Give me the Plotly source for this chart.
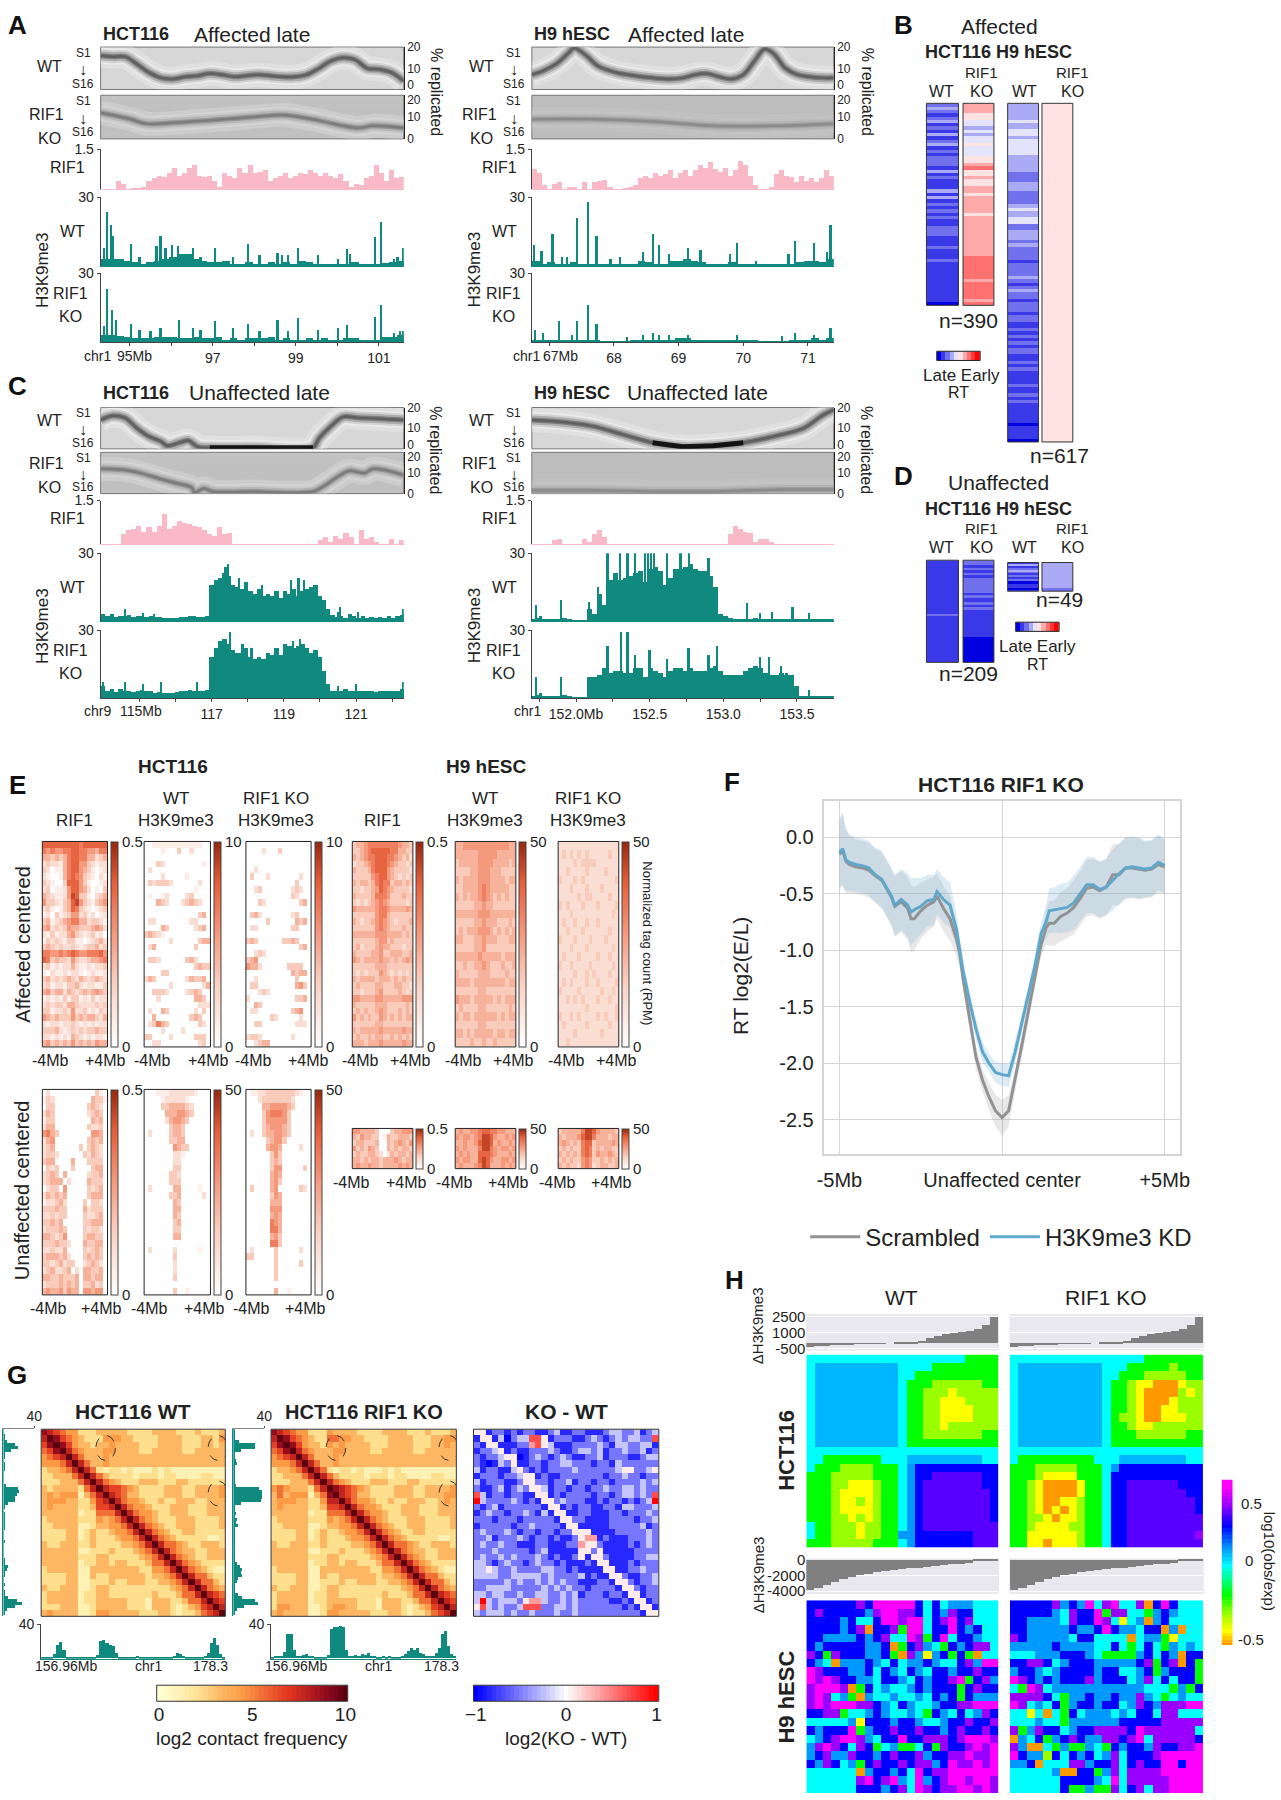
import plotly.graph_objects as go

# reference picture coordinates I read everything in (scaled down view of 1281x1800)
W, H = 1120, 1568
FONT = "Liberation Sans"
TEAL = "#10897e"
PINK = "#f9b9c6"

# ---------- panels A / C : replication ridge (x fraction, % replicated)
A1_WT_X = [0, .04, .08, .12, .16, .2, .24, .28, .32, .36, .4, .44, .48, .52, .56, .6, .64, .68, .72, .76, .8, .84, .88, .92, .96, 1]
A1_WT_Y = [16, 15.5, 15.5, 12, 8, 5.5, 5, 6, 6.5, 7.5, 7, 6, 6.5, 7, 6.5, 6, 6, 7, 10, 13.5, 15, 14, 10, 9.5, 8, 4]
A1_KO_X = [0, .1, .15, .3, .5, .6, .7, .8, .85, .9, 1]
A1_KO_Y = [12, 9, 7, 8, 10, 11, 9, 6, 5, 6, 5]
A2_WT_X = [0, .04, .08, .12, .14, .18, .22, .28, .34, .4, .46, .5, .54, .58, .62, .66, .7, .74, .77, .8, .84, .88, .92, .96, 1]
A2_WT_Y = [7, 9, 12, 17, 19.5, 16, 11, 8, 6.5, 5.5, 5, 5.5, 7, 7.5, 6, 5, 7, 14, 19, 17, 10, 7, 6, 5.5, 5.5]
A2_KO_X = [0, .2, .4, .6, .8, 1]
A2_KO_Y = [9, 9, 8, 6, 6, 7]
C1_WT_X = [0, .04, .08, .12, .16, .2, .22, .26, .29, .32, .36, .5, .7, .72, .76, .8, .85, 1]
C1_WT_Y = [14, 16, 15, 10, 6, 3.5, 1.5, 3, 4, 1, .5, .5, .5, 5, 11, 15.5, 15, 14]
C1_KO_X = [0, .1, .2, .25, .3, .31, .34, .37, .5, .7, .74, .78, .82, .87, .9, 1]
C1_KO_Y = [12, 11, 7, 5, 3, .5, 2.5, 1, 1, 1, 4, 8, 11, 10, 12, 9]
C2_WT_X = [0, .1, .2, .3, .4, .5, .6, .7, .8, .9, .96, 1]
C2_WT_Y = [14, 13, 11, 7, 3, 1, 1.5, 3, 6, 10, 16, 19]
C2_KO_X = [0, .2, .4, .5, .6, .7, .85, 1]
C2_KO_Y = [1.5, 1.5, 1, 1, 1, 1.5, 2, 2]

# ---------- RIF1 tracks
A1_RIF1 = [0, 0, 0, .3, .2, 0, .05, .05, .1, .3, .4, .5, .45, .6, .8, .5, .6, .8, .9, .5, .45, .5, .3, .1, .6, .5, .4, .8, .6, .9, .6, .65, .7, .3, .4, .5, .6, .4, .5, .6, .55, .7, .6, .5, .6, .5, .4, .55, .3, .1, .2, .15, .4, .5, .9, .6, .3, .7, .4, .45]
A2_RIF1 = [.75, .6, .15, 0, .2, .25, 0, .08, .08, 0, .25, 0, .25, .3, .35, .1, 0, 0, .05, .1, .15, .4, .5, .4, .6, .5, .55, .7, .4, .6, .7, .5, .7, .9, .8, 1.0, .75, .65, .8, .5, .7, 1.05, .9, .5, .15, 0, 0, .1, .55, .7, .5, .45, .25, .5, .3, .4, .25, .4, .7, .5]
C1_RIF1 = [0, 0, 0, 0, .35, .5, .55, .65, .45, .6, .45, .65, 1.05, .55, .65, .8, .75, .7, .65, .6, .5, .35, .3, .6, .35, .4, 0, 0, 0, 0, 0, 0, 0, 0, 0, 0, 0, 0, 0, 0, 0, 0, 0, .15, .25, .1, .3, .2, .4, .25, 0, .5, .2, .25, .1, 0, 0, .2, 0, .15]
C2_RIF1 = [0, 0, 0, 0, .15, .2, 0, 0, 0, 0, .2, .1, .35, .5, .25, 0, 0, 0, 0, 0, 0, 0, 0, 0, 0, 0, 0, 0, 0, 0, 0, 0, 0, 0, 0, 0, 0, 0, 0, .35, .65, .55, .45, .4, .1, .2, .2, .1, 0, 0, 0, 0, 0, 0, 0, 0, 0, 0, 0, 0]

# ---------- H3K9me3 tracks : coarse signal plus the narrow peaks
A1_WT_BASE = [3, 3, 3, 2, 1.5, 1, 1.5, 2, 3, 4, 5, 5, 3, 2, 1.5, 1.5, 2, 1, 1, 1.5, 1, 1, 1.5, 1, 1.5, 1, 2, 1.5, 1, 1, .8, 1, 1, 1.5, 1, 1, .8, 1.2, 1.5, 2]
A1_WT_PX = [94.37, 94.45, 94.55, 94.6, 95.02, 95.23, 95.64, 95.74, 95.86, 96.01, 96.16, 96.52, 96.7, 97.05, 97.48, 97.84, 98.12, 98.56, 98.66, 98.81, 99.05, 99.54, 100.01, 100.23, 100.31, 100.9, 101.05, 101.36, 101.45, 101.58]
A1_WT_PH = [8, 23.5, 18, 13, 9.4, 4, 8.5, 13, 8, 9.3, 8.7, 8, 4, 8, 4, 9.7, 4.6, 5.4, 4.6, 4.6, 8, 4.6, 3.2, 7.5, 5, 12.6, 19, 3.2, 4, 8]
A1_KO_BASE = [3, 3, 2.5, 2, 1.5, 1.5, 1.5, 2, 2, 2, 1.5, 1.5, 2, 1.5, 1.5, 2, 1, 1.5, 1, 1.5, 1.5, 1.5, 2, 1, 1.5, 1, 1, 1.5, 1, 1.5, 1, 1, 1.5, 1.5, 1, 1, 1, 2, 2, 3]
A1_KO_PX = [94.37, 94.45, 94.57, 94.67, 95.02, 95.23, 95.5, 95.74, 96.18, 96.52, 96.7, 97.05, 97.48, 97.84, 98.12, 98.56, 98.81, 99.05, 99.54, 100.01, 100.23, 100.9, 101.05, 101.36, 101.5, 101.58]
A1_KO_PH = [7, 23, 14, 9.7, 8, 5, 4.6, 6, 9.4, 6, 5, 9, 6, 8, 4.6, 9.7, 4.6, 10.4, 5, 6, 7.5, 11, 16, 4, 4.6, 4.6]
A2_WT_BASE = [2, 1, 1.5, 1, 1, 1.5, 1, 1, .8, .5, .5, .5, .8, 1, 2, 1.5, 1, 1, 2, 2, 3, 2, 1.5, 1, 1, 1, 1.5, 1, 1, .8, .6, .6, .5, .6, .8, 1.5, 2, 2, 1.5, 3]
A2_WT_PX = [66.77, 66.88, 67.05, 67.2, 67.28, 67.43, 67.6, 67.73, 67.95, 68.1, 68.45, 68.6, 68.7, 68.85, 69.15, 69.34, 69.8, 69.9, 70.2, 70.7, 70.8, 71.1, 71.3, 71.35]
A2_WT_PH = [9, 6.5, 14, 4, 4, 21, 28, 13, 3, 4, 6, 14, 9, 5, 8, 7, 5, 10, 2, 5, 11, 10, 6, 18]
A2_KO_BASE = [1, 1, .6, .5, .5, 1, .6, .5, .5, .3, .3, .3, .3, .4, .5, .6, 1, .7, 1, 1.5, 1.5, 1, 1, 1, .8, .6, 1, .7, .5, .5, .3, .3, .3, .3, .5, .8, 1, 1.5, 1, 1.5]
A2_KO_PX = [66.78, 66.9, 67.15, 67.35, 67.43, 67.6, 67.73, 68.2, 68.45, 68.6, 68.7, 68.85, 69.15, 69.9, 70.6, 70.8, 71.1, 71.35]
A2_KO_PH = [5, 4, 9, 3, 9, 16, 8, 2, 3, 4, 3, 3, 3, 3, 2.5, 4, 3, 6]
C1_WT_BASE = [3, 2, 3, 1.5, 2, 2, 2.5, 1.5, 2, 2, 1.5, 2, 1.5, 1.5, 1, 1, 1, 1, 1.5, 1.5, 2, 2, 1.5, 1.5, 2, 16, 18, 19, 21, 20, 16, 15, 14, 17, 13, 12, 14, 11, 12, 11, 13, 10, 13, 12, 14, 11, 13, 14, 15, 16, 11, 9, 5, 2.5, 1.5, 2, 1, 3, 2, 1, 2, 1, 1.5, 1, 1.5, 1, 2, 1, 2, 2.5]
C1_WT_PX = [114.6, 115.1, 115.4, 117.38, 117.45, 117.75, 118.4, 119.2, 119.4, 119.55, 120.5, 120.55, 121.05, 122.3]
C1_WT_PH = [5, 3.5, 3, 24, 25, 19, 16, 18, 19, 18, 4, 6, 4, 5]
C1_KO_BASE = [5, 3, 4, 2.5, 4, 3, 3, 2.5, 3, 3.5, 3, 3, 2, 2.5, 2, 2, 2, 2.5, 3, 3, 3.5, 3, 3, 3, 3.5, 18, 22, 25, 26, 24, 21, 20, 20, 22, 18, 17, 18, 17, 20, 19, 22, 19, 24, 23, 22, 23, 24, 22, 20, 21, 18, 12, 6, 3, 3, 3, 4, 3, 3, 3, 3, 3, 3, 2.5, 3, 3, 3, 3, 3, 4]
C1_KO_PX = [114.0, 114.6, 115.1, 115.6, 116.6, 117.38, 117.5, 117.85, 118.1, 118.8, 119.25, 119.45, 120.5, 121.0, 122.3]
C1_KO_PH = [7, 7, 6, 7, 7, 26, 29, 24, 22, 22, 25, 26, 5, 6, 7]
C2_WT_BASE = [.5, 1, .5, .5, .5, .5, 1, .5, .3, .3, .3, 5, 3, 12, 7, 18, 21, 18, 19, 20, 21, 22, 17, 23, 24, 22, 16, 19, 23, 23, 24, 25, 23, 22, 22, 20, 15, 3, 2, 1, .8, .5, .5, .8, 1, .8, .7, .5, .5, .5, .5, .5, .5, .5, .5, .5, .5, .5, .5, .5]
C2_WT_PX = [151.73, 151.76, 151.9, 152.09, 152.15, 152.215, 152.3, 152.35, 152.4, 152.47, 152.49, 152.51, 152.53, 152.62, 152.71, 152.77, 152.9, 153.16, 153.25, 153.33, 153.47, 153.58]
C2_WT_PH = [7, 2, 9, 8.5, 15, 30, 30, 30, 30, 30, 30, 30, 30, 30, 30, 30, 28, 8, 3.5, 4, 6, 3.5]
C2_KO_BASE = [.5, 1, .5, .5, .5, .5, 1, .5, .3, .3, .3, 9, 9, 10, 13, 11, 12, 12, 11, 11, 13, 13, 9, 13, 12, 11, 9, 12, 13, 13, 12, 13, 12, 12, 12, 13, 14, 12, 10, 10, 10, 10, 12, 13, 14, 13, 11, 10, 10, 11, 10, 10, 5, .5, .5, .5, .5, .5, .5, .5]
C2_KO_PX = [151.73, 151.76, 151.9, 152.215, 152.305, 152.35, 152.4, 152.5, 152.62, 152.765, 152.9, 152.96, 153.25, 153.31, 153.39, 153.43, 153.47, 153.58]
C2_KO_PH = [9, 2, 9, 23, 29, 29, 19, 21, 17, 22, 19, 23, 18, 18, 14, 11, 10, 3.5]

# ---------- panels B / D : RT stripes, 0 = late ... 9 = early
B_HCT_WT = "2321231213123121222131211131312121211222111211121111111111110"
B_HCT_KO = "6665544343445444556755655665666665666666666666777777767777767"
B_H9_WT = "33333433443444443333322233322223433442233323222212222321232212221221121212122112121111211212111111011110"
B_H9_KO = "5555555555555555555555555555555555555555555555555555555555555555555555555555555555555555555555555555"
D_HCT_WT = "111111111111111111111121111111111111111111"
D_HCT_KO = "22121212222221211212111111111110000000000"
D_H9_WT = "1312321212001101"
D_H9_KO = "3333333333333322"
LEGEND_STEPS = [0, 1, 2, 3, 4, 5, 6, 7, 8, 9]

# ---------- panel E : tornado plots, one string per row (0 white ... 9 dark)
E_A1 = ["7777777776777777", "6565566776655466", "4434346776644234", "2322146775532122", "3201146775431012", "2100146765321021", "3210037775310012", "2301125775420103", "4321125873310234", "5332134785321345", "2310134763210123", "1203123552312012", "3412345664423321", "4523235443334542", "2131224532123120", "1323213311012342", "3432322321233423", "6655656765566675", "7634332532234456", "2312122421121223", "1021121221012112", "3423234324323432", "2312213342122113", "4534424323434543", "1212131331213122", "2323324432222323", "3312232522312132", "5434333534344324", "2122122321212122", "3334212323233433", "2212121432121221", "4534343534343544"]
E_A2 = ["0011111111111100", "0000100030020000", "0000000000000000", "0003200000000010", "0200000000000000", "0000200000100000", "0323332000000200", "0000000000001000", "0100120000230000", "0004320002343200", "0000000000000000", "0000000000000340", "0220000000022000", "0000430000002340", "3432100000000000", "0000002000000344", "0240000000003000", "0000000000000000", "0332000000342000", "0000000000003433", "0000330000000000", "2430000000243340", "0000002000000024", "0033320000234300", "0002000000004430", "0000000000000222", "0200430000002030", "0040000000034300", "0236430000000320", "0000200002000000", "3300002000003330", "0022000000000230"]
E_A3 = ["0000000000000000", "0000200030000000", "0000000000000000", "0000000000000000", "0020000000000000", "0300020000000200", "0000000000003000", "0023000000023200", "0000000000032000", "0003200000000340", "0000000000000000", "0342000000023000", "0000030000004340", "0220000000033000", "0000000000000000", "3430000003343000", "0000000000000340", "0023200000000000", "3450000000000000", "5442000000333300", "0000000000043440", "0020000000003000", "0330000000004530", "0002320000000000", "2000000000003340", "0043000000000000", "0220000000034500", "0000003200000200", "0033000000002220", "0000000000000000", "2332000000020000", "0023440000000000"]
E_A4 = ["3445666666665443", "3345677777664433", "4345667776654342", "2334567776543323", "4333467775433332", "3333356775432323", "4344346766344343", "3323345765433332", "4333346665333433", "3232345654333323", "5444445665444454", "3333335664333333", "4323345654323334", "3333335654333433", "4444445554444343", "3333334553433333", "3423334544333233", "4333344533444334", "5434444544343454", "3333334443333333", "3232333543232323", "4344443444343433", "3433334433344332", "3323334533334323", "5544445544444555", "4333334443333343", "3434334543334343", "5343433543434344", "3333334433333333", "4344444544444544", "3433434433434343", "4443444544444544"]
E_A5 = ["4455555555555544", "4444445555544444", "3444445555444434", "3333445554443333", "4344445554444344", "3344445654444433", "4343445654343433", "3333344544333333", "4444445554444444", "3333344544433343", "3434445554343434", "4433344544433344", "3333344533333333", "4444445444443444", "3343344543334334", "4333334443333433", "4444344444444344", "3333334433333333", "5444344444343444", "3433334433333343", "4344344444434344", "3333334433333333", "4434344444344344", "3333433433433333"]
E_A6 = ["2222222222222222", "2323232322222322", "2222323333222222", "2232222322223222", "3222323222222223", "2223222322232222", "2222232332222322", "3232223222322223", "2223222222222232", "2322322322322222", "2232223222222322", "3222322232223222", "2223222322222232", "2322232222322322", "3223222232222232", "2222322323222322", "2323222322322223", "3222232222232232", "2232323222322322", "2222222322222223", "3223232222323223", "2322222322222322", "2222322222232222", "2232222222222222"]
E_B1 = ["0200000000000310", "1320000000004331", "0330000000034320", "2430000000023430", "1330000000004340", "2440000000032230", "5643000000005540", "2450000000034340", "2340000003034320", "2332000000324320", "3440000400033330", "0323000300003440", "2343040000023340", "2344402000043330", "0233050000032340", "2434340000034440", "1223420000303320", "3334330000423330", "2232330000322340", "3343400000334440", "2333430000323320", "4432350000344330", "3334332000433440", "2232240000323430", "3444342000343430", "3323423300234320", "2342234020443340", "4433433340443440", "2333434340334230", "4544535440554550"]
E_B2 = ["0001112222221000", "0000122222100000", "0000334444320000", "0000044455430000", "0000024554300000", "0000003443000000", "0200003443000000", "0000003344000000", "0000000543300000", "0000000221000000", "0000000220000000", "0000000330000000", "0000003320000000", "0000003330000000", "0200000440000100", "0000003340000020", "0000000430000000", "0000000440000000", "0000000430000000", "0000000340000000", "0000000330000000", "0000000440000000", "0000000000000000", "0200000200000100", "0000000300000000", "0000000200000000", "0000000200000000", "0000000300000000", "0000000000000000", "0000000300100000"]
E_B3 = ["0112233333332100", "0002333333320000", "0000445555430000", "0000356665300000", "0000355555300000", "0000345554300000", "0200344554300000", "0000034553000000", "0000045540000200", "0000003530000000", "0000003430000000", "0000003550000030", "0000004540000000", "0000004530000000", "0300004500000320", "0000003540000000", "0000004440000000", "0000005550000000", "0000004540000000", "0000006540000000", "0000006640000000", "0000004530000000", "0000006630000000", "0200000300000200", "3300000300000000", "0000000300000300", "0000000300000000", "0000000300000000", "0000000000000000", "0000000400100000"]
E_S1 = ["5544443000344555", "4354433014334443", "3443334004345435", "5343543004343443", "3433443202434434", "4434344344454344", "4544544344445454"]
E_S2 = ["4544556776655444", "5455456887544545", "4454457887454454", "5454446886545545", "4545447776544454", "5455447875445545", "4544456874445454"]
E_S3 = ["3444446887544443", "4344457886444344", "4543436773444454", "3434336763434433", "4343436763544543", "3434335653343434", "4343325652344334"]

# ---------- panel F
F_POS = [-5, -4.9, -4.8, -4.7, -4.5, -4.3, -4.1, -3.9, -3.7, -3.5, -3.4, -3.3, -3.1, -2.9, -2.8, -2.7, -2.5, -2.3, -2.1, -2.0, -1.8, -1.6, -1.4, -1.3, -1.2, -1.0, -.8, -.6, -.4, -.2, 0, .2, .4, .6, .8, 1.0, 1.2, 1.35, 1.45, 1.6, 1.8, 2.0, 2.2, 2.4, 2.6, 2.8, 3.0, 3.2, 3.4, 3.6, 3.8, 4.0, 4.2, 4.4, 4.6, 4.8, 5]
F_KD = [-.13, -.1, -.2, -.22, -.24, -.25, -.27, -.33, -.37, -.47, -.52, -.6, -.55, -.6, -.66, -.64, -.61, -.56, -.55, -.48, -.55, -.6, -.82, -1.0, -1.18, -1.45, -1.7, -1.9, -2.0, -2.08, -2.1, -2.11, -1.9, -1.65, -1.4, -1.15, -.85, -.75, -.65, -.64, -.63, -.62, -.58, -.5, -.42, -.42, -.46, -.44, -.38, -.32, -.27, -.26, -.27, -.28, -.27, -.22, -.25]
F_SCR = [-.15, -.12, -.21, -.24, -.26, -.27, -.29, -.34, -.38, -.48, -.53, -.61, -.57, -.63, -.72, -.72, -.65, -.6, -.57, -.52, -.63, -.72, -.9, -1.03, -1.25, -1.6, -1.95, -2.15, -2.3, -2.42, -2.48, -2.42, -2.15, -1.85, -1.55, -1.25, -.95, -.8, -.76, -.76, -.7, -.67, -.62, -.54, -.45, -.44, -.47, -.44, -.33, -.33, -.27, -.27, -.28, -.29, -.28, -.24, -.26]
F_KD_SD = [.3, .32, .28, .25, .24, .24, .24, .24, .25, .25, .25, .27, .27, .28, .3, .28, .25, .23, .22, .2, .2, .2, .15, .12, .1, .09, .09, .09, .08, .09, .1, .1, .1, .09, .09, .09, .1, .15, .2, .2, .22, .22, .24, .24, .25, .25, .25, .25, .27, .27, .27, .27, .27, .25, .25, .25, .24]
F_SCR_SD = [.3, .32, .28, .25, .24, .24, .24, .24, .25, .25, .25, .27, .27, .28, .3, .28, .25, .23, .22, .2, .2, .2, .15, .12, .1, .1, .1, .1, .12, .14, .16, .14, .1, .1, .1, .1, .1, .15, .2, .2, .22, .22, .24, .24, .25, .25, .25, .25, .27, .27, .27, .27, .27, .25, .25, .25, .24]

# ---------- panel G : upper triangle of the contact map, 0..9
HIC_WT = ["876544222333332222333322232223", "98654322244433222233332223324", "9864332334333322233332223323", "975433344333322333332233333", "97533343333333333333333333", "9753343333333333333333333", "975212212111212111111111", "97532222122212211112211", "9754322233322233222222", "976654322223332233334", "97653322223332233334", "9754432232233322333", "975443222333222333", "97544322333222333", "9754322233322223", "975432233322223", "97543223322222", "9754322222112", "975543223332", "97543322333", "9754322333", "975432222", "97543211", "9755322", "975532", "97543", "9765", "976", "97", "9"]
HIC_KO_EDITS = [(1, 9, 5), (1, 10, 5), (2, 9, 4), (1, 28, 4), (2, 28, 4), (10, 28, 4), (11, 28, 4), (9, 10, 8), (9, 11, 7), (0, 9, 4)]
HIC_DIFF = ["552332323322342233222344334234", "255241344775233322343234344337", "325522233675422233334324433442", "233452322333432234434233433423", "323345512343234322334233322344", "321243522332334433323324333333", "423322453232333343333334553345", "233323345523223333333233433233", "423332235533233423323323333434", "322342343554233233233433443433", "742332332255232333323323443437", "843333432325534333223233232348", "323423333332552323322332443334", "234332334324255223322233233343", "333233323333325533222233332334", "233333233433332552222233333423", "343334323323323355522223333343", "334233343233232235662322233343", "343343322233222336553222232343", "333433333234222225535222223333", "343343433343232235255322223344", "443234332343323222325522232333", "445433433334433232222552233433", "444433444443433334232255322334", "333334343343434332223325532334", "334444333334343433233332553233", "443443343344334342333233255233", "484344435664334343333322325523", "574343347773344343333333232552", "434443433433343343333333333255"]
G_WT_TRACK = [1, 1, 2, 2, 5, 16, 19, 10, 2, 2, 1, 1.5, 2, 2, 1, 1, 1, 1, 4, 20, 21, 18, 16, 15, 6, 1.5, 1, 1.5, 2, 1.5, 2, 3, 2, 1, 1, 1, 1.5, 1, 1, 1, 1, 1, 1.5, 3, 6, 5, 3, 2, 1, 1, 1.5, 1, 2, 3, 6, 18, 24, 16, 5, 2]
G_KO_TRACK = [2, 3, 3, 3, 8, 28, 28, 10, 3, 3, 4, 5, 3, 3, 2, 2, 2, 2, 4, 34, 37, 37, 38, 36, 10, 3, 3, 4, 3, 5, 4, 6, 3, 3, 2, 2, 3, 2, 3, 2, 2, 2, 3, 5, 9, 12, 10, 12, 6, 5, 3, 3, 3, 6, 12, 28, 32, 14, 5, 3]

# ---------- panel H : colour codes per cell (hex digit), see H_LEVELS; 9 and a are the softer block tones
H_LEVELS = [-.55, -.45, -.33, -.2, 0, .12, .28, .42, .55, .085, .36]
H_HCT_WT = ["44444444444444444443333", "49999999999444433333333", "49999999999443333333333", "49999999999433322222233", "49999999999433222122222", "49999999999433221112222", "49999999999433221111222", "49999999999433221111222", "49999999999433221222222", "49999999999433222222233", "49999999999433333333333", "44444444444444444444444", "44333333344499999999944", "43332222333456666666666", "333222223334566aaaaaa66", "33322111233456aaaaaaa66", "33321111233456aaaaaaaa6", "33321121233456aaaaaaaa6", "33321111233456aaaaaaaa6", "33322121233456aaaaaaaa6", "43322212233456aaaaaaaaa", "43322212233556666666aaa", "33322222333456666666aaa"]
H_HCT_KO = ["44444444444444443333333", "49999999999444333332333", "49999999999443332222233", "49999999999433211000122", "49999999999433210000212", "49999999999433210001222", "49999999999433210011222", "49999999999432210011122", "49999999999433211222222", "49999999999433322222233", "49999999999433333333333", "44444444444444444444444", "43333333334449999999944", "33322222333456666666666", "33321111333466666666666", "33210000133466aaaaaa666", "33210000133466aaaaaaa66", "33210011233466aaaaaaaa6", "33210101233466aaaaaaaa6", "33221011233466aaaaaaaaa", "33211112233466aaaaaaaaa", "33111111233466aaaaaaaa7", "33110111233466aaaaaaaaa"]
H_H9_WT = ["66666676888886464555444", "67666665788776465766444", "66665644688788467867444", "66665670667388466865644", "66555565674487368466544", "65666665560367543656774", "76376665563075156363044", "65405556546455654467588", "87666556465465466566766", "87876655466546566783675", "78887036454456566636766", "78745305445445465636555", "78788877654654456677888", "66773445654454365464576", "44444516665665445667667", "65666835667667665676676", "45678875466866777678887", "57876476345334637667878", "56755766567667566778778", "65764536766767756877878", "44444405665648677888888", "44444478678548567887887", "44444466656748767788787"]
H_H9_KO = ["66666756584784470686444", "66666547668377443565444", "66555547668741450564444", "66555556556865546605044", "76555554664444045531444", "55555655554464346435454", "44455566654333356465066", "66776456665555567367063", "56654566665664456356663", "87656566675666457464663", "43874555555555554443536", "77776435565565575434544", "87454635665664576577788", "44140436455545466477444", "44454435555556666677777", "73576645667777687777774", "05463567655776784777776", "75004353354365665766778", "86552646564574666788888", "55604447756674676688688", "44444500663574777788888", "44444466665484777778888", "44444463353374674778888"]
H_TOP_BARS = [-350, -300, -250, -200, -150, -100, -60, -40, -20, -10, 0, 20, 60, 130, 200, 500, 650, 800, 900, 1000, 1100, 1300, 1700, 2400]
H_MID_BARS = [-3900, -3600, -3200, -2900, -2500, -2200, -2000, -1800, -1600, -1400, -1300, -1200, -1100, -1000, -900, -800, -700, -600, -500, -400, -200, -100, -50]

fig = go.Figure()
count = [1]


def panel(x0, y0, x1, y1, xa=None, ya=None):
    count[0] += 1
    i = count[0]
    xo = dict(domain=[x0 / W, x1 / W], anchor=f"y{i}", showgrid=False, zeroline=False, showticklabels=False, ticks="")
    yo = dict(domain=[1 - y1 / H, 1 - y0 / H], anchor=f"x{i}", showgrid=False, zeroline=False, showticklabels=False, ticks="")
    xo.update(xa or {})
    yo.update(ya or {})
    fig.update_layout(**{f"xaxis{i}": xo, f"yaxis{i}": yo})
    return f"x{i}", f"y{i}"


def frame(xr, yr, fill=None, color="#555", width=1):
    fig.add_shape(type="rect", xref=xr + " domain", yref=yr + " domain", x0=0, x1=1, y0=0, y1=1,
                  line=dict(color=color, width=width), fillcolor=fill, layer="below" if fill else "above")


def label(x, y, text, size=15, bold=False, angle=0, color="#222", anchor="center"):
    fig.add_annotation(x=x / W, y=1 - y / H, xref="paper", yref="paper", text=f"<b>{text}</b>" if bold else text,
                       showarrow=False, textangle=angle, xanchor=anchor, yanchor="middle",
                       font=dict(family=FONT, size=size, color=color))


def ridge(rect, rx, ry, bg, halo, strength, rtick, dark=None):
    xr, yr = panel(*rect, xa=dict(range=[0, 1]),
                   ya=dict(range=[0, 20], side="right", showticklabels=True, tickvals=rtick, ticktext=["0", "10", "20"], ticks="",
                           showline=True, linecolor="#222", linewidth=1,
                           tickfont=dict(family=FONT, size=12, color="#222")))
    frame(xr, yr, fill=bg, color="#777")
    layers = [(24, halo, .35), (16, halo, .6), (13, "#9a9a9a", .3 * strength), (9, "#777", .4 * strength), (5, "#555", .55 * strength), (2.5, "#444", .5 * strength)]
    for w, c, o in layers:
        fig.add_trace(go.Scatter(x=rx, y=ry, mode="lines", line=dict(color=c, width=w, shape="spline"), opacity=o,
                                 hoverinfo="skip", showlegend=False, xaxis=xr, yaxis=yr))
    if dark:
        fig.add_trace(go.Scatter(x=rx[dark[0]:dark[1]], y=ry[dark[0]:dark[1]], mode="lines",
                                 line=dict(color="#0a0a0a", width=5), opacity=.9, hoverinfo="skip",
                                 showlegend=False, xaxis=xr, yaxis=yr))


def track(rect, xrange, ymax, base, px=None, ph=None, color=TEAL, ticks=None, tlabels=None, toplabel=None):
    xa = dict(range=xrange)
    if ticks:
        xa.update(tickvals=ticks, ticktext=tlabels, showticklabels=True, ticks="outside", ticklen=3,
                  showline=True, linecolor="#444", tickfont=dict(family=FONT, size=14, color="#222"))
    else:
        xa.update(showline=True, linecolor=color, linewidth=1)
    ya = dict(range=[0, ymax], tickvals=[ymax], ticktext=[toplabel or str(ymax)], showticklabels=True, ticks="outside",
              ticklen=3, showline=True, linecolor="#444", linewidth=1, tickfont=dict(family=FONT, size=14, color="#222"))
    xr, yr = panel(*rect, xa=xa, ya=ya)
    step = (xrange[1] - xrange[0]) / len(base)
    xs = [xrange[0] + step * (i + .5) for i in range(len(base))]
    fig.add_trace(go.Bar(x=xs, y=base, width=step, marker=dict(color=color, line=dict(width=0)), hoverinfo="skip",
                         showlegend=False, xaxis=xr, yaxis=yr))
    if px:
        fig.add_trace(go.Bar(x=px, y=ph, width=(xrange[1] - xrange[0]) / 170, marker=dict(color=color, line=dict(width=0)),
                             hoverinfo="skip", showlegend=False, xaxis=xr, yaxis=yr))


def codes(rows):
    return [[int(c) for c in r] for r in rows]


def heat(rect, z, scale, zmin, zmax, border="#222", colorbar=None):
    n = len(z)
    xr, yr = panel(*rect, ya=dict(range=[n - .5, -.5]))
    fig.add_trace(go.Heatmap(z=z, colorscale=scale, zmin=zmin, zmax=zmax, showscale=bool(colorbar), colorbar=colorbar,
                             hoverinfo="skip", xaxis=xr, yaxis=yr))
    if border:
        frame(xr, yr, color=border)
    return xr, yr


# ---------- A and C
XL = (88, 353)
XR = (465, 729)
A_ROWS = dict(wt=(41, 78), ko=(83, 121), rif=(130, 165), h1=(172, 232), h2=(238, 298))
C_ROWS = dict(wt=(355, 391), ko=(394, 430), rif=(436, 474), h1=(482, 541), h2=(549, 608))

for rows, xs, data in [
    (A_ROWS, XL, (A1_WT_X, A1_WT_Y, A1_KO_X, A1_KO_Y, A1_RIF1, A1_WT_BASE, A1_WT_PX, A1_WT_PH, A1_KO_BASE, A1_KO_PX, A1_KO_PH,
                  [94.3, 101.6], [95, 96, 97, 98, 99, 100, 101], ["", "", "97", "", "99", "", "101"], None)),
    (A_ROWS, XR, (A2_WT_X, A2_WT_Y, A2_KO_X, A2_KO_Y, A2_RIF1, A2_WT_BASE, A2_WT_PX, A2_WT_PH, A2_KO_BASE, A2_KO_PX, A2_KO_PH,
                  [66.73, 71.4], [67, 68, 69, 70, 71], ["", "68", "69", "70", "71"], None)),
    (C_ROWS, XL, (C1_WT_X, C1_WT_Y, C1_KO_X, C1_KO_Y, C1_RIF1, C1_WT_BASE, C1_WT_PX, C1_WT_PH, C1_KO_BASE, C1_KO_PX, C1_KO_PH,
                  [113.93, 122.32], [115, 116, 117, 118, 119, 120, 121, 122], ["", "", "117", "", "119", "", "121", ""], (10, 13))),
    (C_ROWS, XR, (C2_WT_X, C2_WT_Y, C2_KO_X, C2_KO_Y, C2_RIF1, C2_WT_BASE, C2_WT_PX, C2_WT_PH, C2_KO_BASE, C2_KO_PX, C2_KO_PH,
                  [151.7, 153.75], [151.75, 152, 152.25, 152.5, 152.75, 153, 153.25, 153.5], ["", "152.0Mb", "", "152.5", "", "153.0", "", "153.5"], (4, 8))),
]:
    wx, wy, kx, ky, rif, b1, p1, h1, b2, p2, h2, xrange, tv, tl, dk = data
    faint_ko = xs == XR
    ridge((xs[0], rows["wt"][0], xs[1], rows["wt"][1]), wx, wy, "#d8d8d8", "#f4f4f4", 1, [2.2, 10, 20], dark=dk)
    ridge((xs[0], rows["ko"][0], xs[1], rows["ko"][1]), kx, ky, "#bdbdbd" if faint_ko else "#c4c4c4",
          "#c8c8c8" if faint_ko else "#dddddd", .4 if faint_ko else .6, [0, 10, 17.8], dark=None)
    track((xs[0], rows["rif"][0], xs[1], rows["rif"][1]), xrange, 1.5, rif, color=PINK, toplabel="1.5")
    track((xs[0], rows["h1"][0], xs[1], rows["h1"][1]), xrange, 30, b1, p1, h1)
    track((xs[0], rows["h2"][0], xs[1], rows["h2"][1]), xrange, 30, b2, p2, h2, ticks=tv, tlabels=tl)

for top, lab in [(30, "Affected late"), (342, "Unaffected late")]:
    label(119, top, "HCT116", 18, True)
    label(220 if top == 30 else 227, top, lab, 21)
    label(500, top, "H9 hESC", 18, True)
    label(600 if top == 30 else 610, top, lab, 21)

for x0, x1 in [(42, 73), (420, 449)]:
    for rows, w, k in [(A_ROWS, 58, 108), (C_ROWS, 366, 412)]:
        wt = rows["wt"]
        ko = rows["ko"]
        label(x0 + 1, w, "WT", 16)
        label(x0 - 1, k - 8, "RIF1", 16)
        label(x0 + 1, k + 13, "KO", 16)
        label(x1, wt[0] + 5, "S1", 12)
        label(x1, wt[1] - 5, "S16", 12)
        label(x1, ko[0] + 5, "S1", 12)
        label(x1, ko[1] - 6, "S16", 12)
        label(x1, (wt[0] + wt[1]) / 2 + 1, "↓", 16)
        label(x1, (ko[0] + ko[1]) / 2 + 1, "↓", 16)
        label(x0 + 17, rows["rif"][0] + 16, "RIF1", 16)
        label(x0 + 21, rows["h1"][0] + 30, "WT", 16)
        label(x0 + 20, rows["h2"][0] + 18, "RIF1", 16)
        label(x0 + 20, rows["h2"][0] + 38, "KO", 16)
        label(x0 - 5, (rows["h1"][1] + rows["h2"][0]) / 2, "H3K9me3", 17, angle=-90)

for yy in (80, 392):
    label(381, yy, "% replicated", 16, angle=90)
    label(758, yy, "% replicated", 16, angle=90)
label(85, 310, "chr1", 14)
label(118, 310, "95Mb", 14)
label(460, 310, "chr1", 14)
label(490, 310, "67Mb", 14)
label(85, 619, "chr9", 14)
label(123, 619, "115Mb", 14)
label(461, 619, "chr1", 14)

for x, y, t in [(15, 22, "A"), (790, 22, "B"), (15, 336, "C"), (790, 415, "D"), (15, 684, "E"), (640, 681, "F"), (15, 1198, "G"), (642, 1115, "H")]:
    label(x, y, t, 26, True, color="#111")

# ---------- B and D
RT_SCALE = [[0, "#0000e0"], [.5, "#ffffff"], [1, "#ff0000"]]
for s, rect in [(B_HCT_WT, (810, 90, 838, 266)), (B_HCT_KO, (842, 90, 869, 266)), (B_H9_WT, (881, 90, 908, 385)), (B_H9_KO, (911, 90, 938, 385)),
                (D_HCT_WT, (810, 488, 838, 577)), (D_HCT_KO, (842, 488, 869, 577)), (D_H9_WT, (881, 490, 908, 515)), (D_H9_KO, (911, 490, 938, 515))]:
    heat(rect, [[int(c)] for c in s], RT_SCALE, 0, 9, border="#333")
heat((819, 306, 857, 314), [LEGEND_STEPS], RT_SCALE, 0, 9)
heat((888, 542, 926, 550), [LEGEND_STEPS], RT_SCALE, 0, 9)

label(874, 23, "Affected", 21)
label(873, 45, "HCT116 H9 hESC", 18, True)
label(873, 420, "Unaffected", 21)
label(873, 443, "HCT116 H9 hESC", 18, True)
for ytop in (63, 460):
    label(858, ytop, "RIF1", 15)
    label(938, ytop, "RIF1", 15)
    label(823, ytop + 17, "WT", 16)
    label(858, ytop + 17, "KO", 16)
    label(896, ytop + 17, "WT", 16)
    label(938, ytop + 17, "KO", 16)
label(847, 279, "n=390", 21)
label(926, 397, "n=617", 21)
label(847, 587, "n=209", 21)
label(926, 522, "n=49", 21)
label(841, 327, "Late Early", 17)
label(838, 342, "RT", 16)
label(907, 563, "Late Early", 17)
label(907, 579, "RT", 16)

# ---------- E
E_SCALE = [[0, "#ffffff"], [.3, "#fad2c4"], [.55, "#f59a7e"], [.8, "#e65f3a"], [1, "#96270f"]]
E_BIG = [
    (E_A1, 37, 94, 733, 912, .5, 7, -2), (E_A2, 126, 184, 733, 912, 10, 7, -2), (E_A3, 215, 272, 733, 912, 10, 7, -2),
    (E_A4, 308, 361, 733, 912, .5, 7, -2), (E_A5, 398, 451, 733, 912, 50, 7, -2), (E_A6, 488, 541, 733, 912, 50, 7, -2),
    (E_B1, 37, 94, 949, 1128, .5, 5, -5), (E_B2, 126, 184, 949, 1128, 50, 5, -5), (E_B3, 215, 272, 949, 1128, 50, 5, -5),
    (E_S1, 308, 361, 983, 1018, .5, -1, -6), (E_S2, 398, 451, 983, 1018, 50, -1, -6), (E_S3, 488, 541, 983, 1018, 50, -1, -6),
]
for rows, x0, x1, y0, y1, zmax, lshift, rshift in E_BIG:
    z = [[int(c) / 9 * zmax for c in r] for r in rows]
    cb = dict(x=(x1 + 3) / W, xanchor="left", y=1 - y1 / H, yanchor="bottom", len=(y1 - y0) / H, thickness=7,
              tickvals=[0, zmax], ticks="", outlinecolor="#444", outlinewidth=1, xpad=0, ypad=0,
              tickfont=dict(family=FONT, size=15, color="#222"), ticklabelposition="outside")
    heat((x0, y0, x1, y1), z, E_SCALE, 0, zmax, colorbar=cb)
    label(x0 + lshift, y1 + 12, "-4Mb", 16)
    label(x1 + rshift, y1 + 12, "+4Mb", 16)

label(151, 668, "HCT116", 19, True)
label(425, 668, "H9 hESC", 19, True)
for x, a, b in [(65, "", "RIF1"), (154, "WT", "H3K9me3"), (241, "RIF1 KO", "H3K9me3"), (334, "", "RIF1"), (424, "WT", "H3K9me3"), (514, "RIF1 KO", "H3K9me3")]:
    if a:
        label(x, 696, a, 17)
    label(x, 715, b, 17)
label(20, 823, "Affected centered", 20, angle=-90)
label(20, 1037, "Unaffected centered", 20, angle=-90)
label(566, 822, "Normalized tag count (RPM)", 13, angle=90)

# ---------- F
xr, yr = panel(720, 698, 1032, 1005,
               xa=dict(range=[-5.49, 5.48], showgrid=True, gridcolor="#d4d4d8", tickvals=[-5, 0, 5], showticklabels=True,
                       ticktext=["-5Mb", "Unaffected center", "+5Mb"], ticks="", mirror=True, showline=True, linecolor="#d4d4d8",
                       linewidth=1.5, ticklabelstandoff=8, tickfont=dict(family=FONT, size=20, color="#222")),
               ya=dict(range=[-2.8, .32], showgrid=True, gridcolor="#d4d4d8", tickvals=[0, -.5, -1, -1.5, -2, -2.5], showticklabels=True,
                       ticktext=["0.0", "-0.5", "-1.0", "-1.5", "-2.0", "-2.5"], ticks="", mirror=True, showline=True, linecolor="#d4d4d8",
                       linewidth=1.5, ticklabelstandoff=4, tickfont=dict(family=FONT, size=20, color="#222")))
for y, sd, fillc in [(F_SCR, F_SCR_SD, "rgba(165,165,165,.25)"), (F_KD, F_KD_SD, "rgba(120,175,215,.25)")]:
    upper = [a + b for a, b in zip(y, sd)]
    lower = [a - b for a, b in zip(y, sd)]
    fig.add_trace(go.Scatter(x=F_POS + F_POS[::-1], y=upper + lower[::-1], fill="toself", fillcolor=fillc, mode="none",
                             hoverinfo="skip", showlegend=False, xaxis=xr, yaxis=yr))
fig.add_trace(go.Scatter(x=F_POS, y=F_SCR, name="Scrambled", mode="lines", line=dict(color="#929292", width=3), xaxis=xr, yaxis=yr))
fig.add_trace(go.Scatter(x=F_POS, y=F_KD, name="H3K9me3 KD", mode="lines", line=dict(color="#5fa8cc", width=3), xaxis=xr, yaxis=yr))
label(875, 683, "HCT116 RIF1 KO", 21, True)
label(648, 850, "RT log2(E/L)", 21, angle=-90)

# ---------- G
HIC_SCALE = [[0, "#ffffd8"], [.1, "#fff2b8"], [.22, "#fee08f"], [.33, "#fdb863"], [.45, "#fb9a45"], [.7, "#e1341e"], [.9, "#8f0a1e"], [1, "#5c0010"]]
DIFF_SCALE = [[0, "#0000ff"], [.5, "#ffffff"], [1, "#ff0000"]]

hic_wt = [[0] * 30 for _ in range(30)]
for i, row in enumerate(HIC_WT):
    for j, c in enumerate(row):
        hic_wt[i][i + j] = hic_wt[i + j][i] = int(c) * 10 / 9
hic_ko = [list(r) for r in hic_wt]
for i, j, v in HIC_KO_EDITS:
    hic_ko[i][j] = hic_ko[j][i] = v * 10 / 9

CIRCLES = [(10, 2.5), (28.3, 2.5), (28.3, 9.8)]
for z, x0, x1, trk in [(hic_wt, 36, 197, G_WT_TRACK), (hic_ko, 237, 399, G_KO_TRACK)]:
    xr, yr = heat((x0, 1245, x1, 1408), z, HIC_SCALE, 0, 10, border="#333")
    fig.update_layout(**{xr.replace("x", "xaxis"): dict(range=[-.5, 29.5])})
    for cx, cy in CIRCLES:
        fig.add_shape(type="circle", xref=xr, yref=yr, x0=cx - 1.6, x1=cx + 1.6, y0=cy - 2, y1=cy + 2,
                      line=dict(color="#333", width=1, dash="dash"))
    track((x0, 1415, x1, 1445), [0, 60], 40, trk)
    side_x, side_y = panel(x0 - 33, 1245, x0 - 6, 1408,
                           xa=dict(range=[0, 40], side="top", showline=True, linecolor="#888", tickvals=[40], ticktext=["40"],
                                   showticklabels=True, ticks="outside", ticklen=2, tickfont=dict(family=FONT, size=14, color="#222")),
                           ya=dict(range=[60, 0], showline=True, linecolor=TEAL))
    step_y = list(range(len(trk)))
    fig.add_trace(go.Bar(x=trk, y=step_y, orientation="h", width=1, marker=dict(color=TEAL, line=dict(width=0)),
                         hoverinfo="skip", showlegend=False, xaxis=side_x, yaxis=side_y))
    label(x0 + 22, 1451, "156.96Mb", 14)
    label(x0 + 94, 1451, "chr1", 14)
    label(x1 - 13, 1451, "178.3", 14)

heat((414, 1245, 576, 1408), codes(HIC_DIFF), DIFF_SCALE, 1.5, 8, border="#333")
label(116, 1230, "HCT116 WT", 21, True)
label(318, 1230, "HCT116 RIF1 KO", 20, True)
label(495, 1230, "KO - WT", 21, True)
label(220, 1514, "log2 contact frequency", 19)
label(495, 1514, "log2(KO - WT)", 19)

# colour bars for G
for scale, x0, x1, lo, hi, tv in [(HIC_SCALE, 137, 304, 0, 10, [0, 5, 10]), (DIFF_SCALE, 414, 576, -1, 1, [-1, 0, 1])]:
    xr, yr = panel(x0, 1468, x1, 1482)
    steps = [lo + (hi - lo) * i / 40 for i in range(41)]
    fig.add_trace(go.Heatmap(z=[steps], x=steps, colorscale=scale, zmin=lo, zmax=hi, showscale=False, hoverinfo="skip", xaxis=xr, yaxis=yr))
    fig.update_layout(**{xr.replace("x", "xaxis"): dict(tickvals=tv, showticklabels=True, ticks="", tickfont=dict(family=FONT, size=19, color="#222"))})
    frame(xr, yr, color="#333")

# ---------- H
H_SCALE = [[(v + .55) / 1.1, c] for v, c in zip(H_LEVELS[:9], ["#ff9900", "#ffff00", "#99ff00", "#00ff00", "#00ffff", "#0099ff", "#0000ff", "#9900ff", "#ff00ff"])]


def h_values(rows):
    return [[H_LEVELS[int(c, 16)] for c in r] for r in rows]


for x0, x1, hct, h9 in [(705, 873, H_HCT_WT, H_H9_WT), (883, 1052, H_HCT_KO, H_H9_KO)]:
    heat((x0, 1180, x1, 1348), h_values(hct), H_SCALE, -.55, .55, border=None)
    heat((x0, 1394, x1, 1562), h_values(h9), H_SCALE, -.55, .55, border=None)
    for y0, y1, vals, rng, tv, tl in [(1145, 1176, H_TOP_BARS, [-600, 2700], [-500, 1000, 2500], ["-500", "1000", "2500"]),
                                      (1358, 1388, H_MID_BARS, [-4300, 100], [0, -2000, -4000], ["0", "-2000", "-4000"])]:
        lab = x0 == 705
        xr, yr = panel(x0, y0, x1, y1, xa=dict(range=[-.5, len(vals) - .5]),
                       ya=dict(range=rng, tickvals=tv, ticktext=tl, showgrid=True, gridcolor="#ffffff", showticklabels=lab,
                               tickfont=dict(family=FONT, size=15, color="#222")))
        frame(xr, yr, fill="#e8e8ee", color="#e8e8ee")
        fig.add_trace(go.Bar(x=list(range(len(vals))), y=vals, width=1, marker=dict(color="#808080", line=dict(width=0)),
                             hoverinfo="skip", showlegend=False, xaxis=xr, yaxis=yr))

xr, yr = panel(1068, 1289, 1078, 1433, ya=dict(range=[-.55, .6]))
cb_steps = [-.55 + i * .025 for i in range(47)]
fig.add_trace(go.Heatmap(z=[[v] for v in cb_steps], y=cb_steps, colorscale=H_SCALE, zmin=-.55, zmax=.55, showscale=False, hoverinfo="skip", xaxis=xr, yaxis=yr))
label(1094, 1310, "0.5", 15)
label(1092, 1359, "0", 15)
label(1094, 1428, "-0.5", 15)
label(1110, 1360, "log10(obs/exp)", 15, angle=90)
label(788, 1130, "WT", 21)
label(967, 1130, "RIF1 KO", 21)
label(688, 1263, "HCT116", 22, True, angle=-90)
label(688, 1478, "H9 hESC", 22, True, angle=-90)
label(663, 1155, "ΔH3K9me3", 15, angle=-90)
label(663, 1372, "ΔH3K9me3", 15, angle=-90)

fig.update_layout(width=1281, height=1800, autosize=False, margin=dict(l=0, r=0, t=0, b=0, autoexpand=False), barmode="overlay", bargap=0,
                  plot_bgcolor="rgba(0,0,0,0)", paper_bgcolor="#ffffff", font=dict(family=FONT),
                  legend=dict(orientation="h", x=704 / W, y=1 - 1058 / H, xanchor="left", yanchor="top", itemwidth=50,
                              font=dict(family=FONT, size=24, color="#222")))

fig.write_html("out.html", config={"displayModeBar": False}, post_script="document.body.style.margin='0';")
